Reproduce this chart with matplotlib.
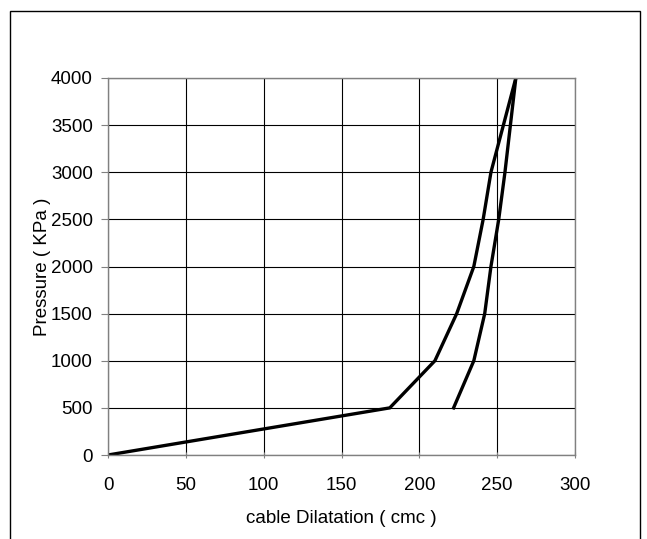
import matplotlib.pyplot as plt
from matplotlib.patches import Rectangle

plt.rcParams["font.family"] = ["Liberation Sans", "DejaVu Sans"]

# loading branch
load_x = [0, 181, 210, 224, 235, 241, 246, 262]
load_y = [0, 500, 1000, 1500, 2000, 2500, 3000, 4000]
# unloading branch
unload_x = [222, 235, 242, 246, 251, 255, 262]
unload_y = [500, 1000, 1500, 2000, 2500, 3000, 4000]

x_ticks = [0, 50, 100, 150, 200, 250, 300]
y_ticks = [0, 500, 1000, 1500, 2000, 2500, 3000, 3500, 4000]

fig = plt.figure(figsize=(6.47, 5.39), dpi=100)
ax = fig.add_axes([108 / 647, 1 - 455 / 539, 467 / 647, 377 / 539])

ax.plot(load_x, load_y, color="black", lw=2.4, solid_joinstyle="miter")
ax.plot(unload_x, unload_y, color="black", lw=2.4, solid_joinstyle="miter")

ax.set_xlim(0, 300)
ax.set_ylim(0, 4000)
ax.set_xticks(x_ticks)
ax.set_yticks(y_ticks)
ax.grid(True, color="black", lw=0.8)
ax.set_axisbelow(True)
for side, sp in ax.spines.items():
    sp.set_color("#808080")
    sp.set_linewidth(1.0)
ax.tick_params(axis="both", labelsize=13.5, color="#808080", length=5)
ax.tick_params(axis="x", direction="inout", pad=13)
ax.tick_params(axis="y", direction="out", pad=6)

ax.set_xlabel("cable Dilatation ( cmc )", fontsize=13.5, labelpad=12)
ax.set_ylabel("Pressure ( KPa )", fontsize=13.5, labelpad=0)

# chart frame (cut off at the bottom)
fig.patches.append(Rectangle((10 / 647, -0.05), 630 / 647, 1.05 - 11 / 539,
                             transform=fig.transFigure, fill=False,
                             edgecolor="black", lw=1.0))

fig.savefig("out.png", dpi=100)
